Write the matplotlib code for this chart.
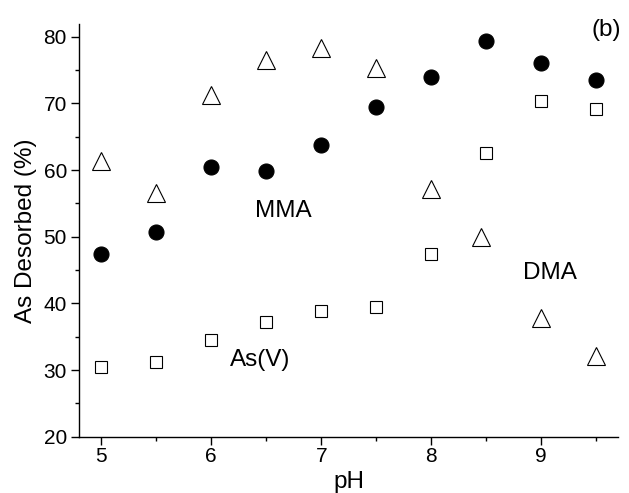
import matplotlib
matplotlib.use("Agg")
import matplotlib.pyplot as plt
from matplotlib.ticker import MultipleLocator

plt.rcParams['font.family'] = ['Liberation Sans', 'DejaVu Sans']

# pH values and percentage of arsenic desorbed for each species
ph = [5.0, 5.5, 6.0, 6.5, 7.0, 7.5, 8.0, 8.5, 9.0, 9.5]
mma = [47.4, 50.7, 60.5, 59.9, 63.7, 69.5, 73.9, 79.4, 76.0, 73.5]
asv = [30.5, 31.2, 34.5, 37.2, 38.9, 39.5, 47.4, 62.6, 70.4, 69.1]
ph_dma = [5.0, 5.5, 6.0, 6.5, 7.0, 7.5, 8.0, 8.45, 9.0, 9.5]
dma = [61.4, 56.6, 71.3, 76.5, 78.3, 75.3, 57.2, 50.0, 37.8, 32.1]

fig = plt.figure(figsize=(6.29, 4.93), dpi=100)
ax = fig.add_axes([0.126, 0.1142, 0.857, 0.837])

ax.plot(ph, mma, linestyle='none', marker='o', markersize=10.8,
        markerfacecolor='black', markeredgecolor='black', markeredgewidth=0.8)
ax.plot(ph, asv, linestyle='none', marker='s', markersize=8.2,
        markerfacecolor='white', markeredgecolor='black', markeredgewidth=0.8)
ax.plot(ph_dma, dma, linestyle='none', marker='^', markersize=12.8,
        markerfacecolor='white', markeredgecolor='black', markeredgewidth=0.8)

ax.set_xlim(4.8, 9.7)
ax.set_ylim(20, 81.9)
ax.xaxis.set_major_locator(MultipleLocator(1))
ax.xaxis.set_minor_locator(MultipleLocator(0.5))
ax.yaxis.set_major_locator(MultipleLocator(10))
ax.yaxis.set_minor_locator(MultipleLocator(5))

for side in ('top', 'right'):
    ax.spines[side].set_visible(False)
for side in ('left', 'bottom'):
    ax.spines[side].set_linewidth(1.0)

ax.tick_params(which='major', direction='out', length=5.5, width=1.0,
               labelsize=15)
ax.tick_params(axis='x', which='major', pad=2)
ax.tick_params(axis='y', which='major', pad=3.4)
ax.tick_params(which='minor', direction='out', length=3, width=1.0)

ax.set_xlabel('pH', fontsize=17.5, labelpad=3.5)
ax.set_ylabel('As Desorbed (%)', fontsize=17.5, labelpad=5)

ax.text(6.40, 52.95, 'MMA', fontsize=17.5, va='baseline')
ax.text(6.17, 30.65, 'As(V)', fontsize=17.5, va='baseline')
ax.text(8.83, 43.6, 'DMA', fontsize=17.5, va='baseline')
ax.text(9.46, 80.1, '(b)', fontsize=17.5, va='baseline')

fig.savefig('out.png', dpi=100)
